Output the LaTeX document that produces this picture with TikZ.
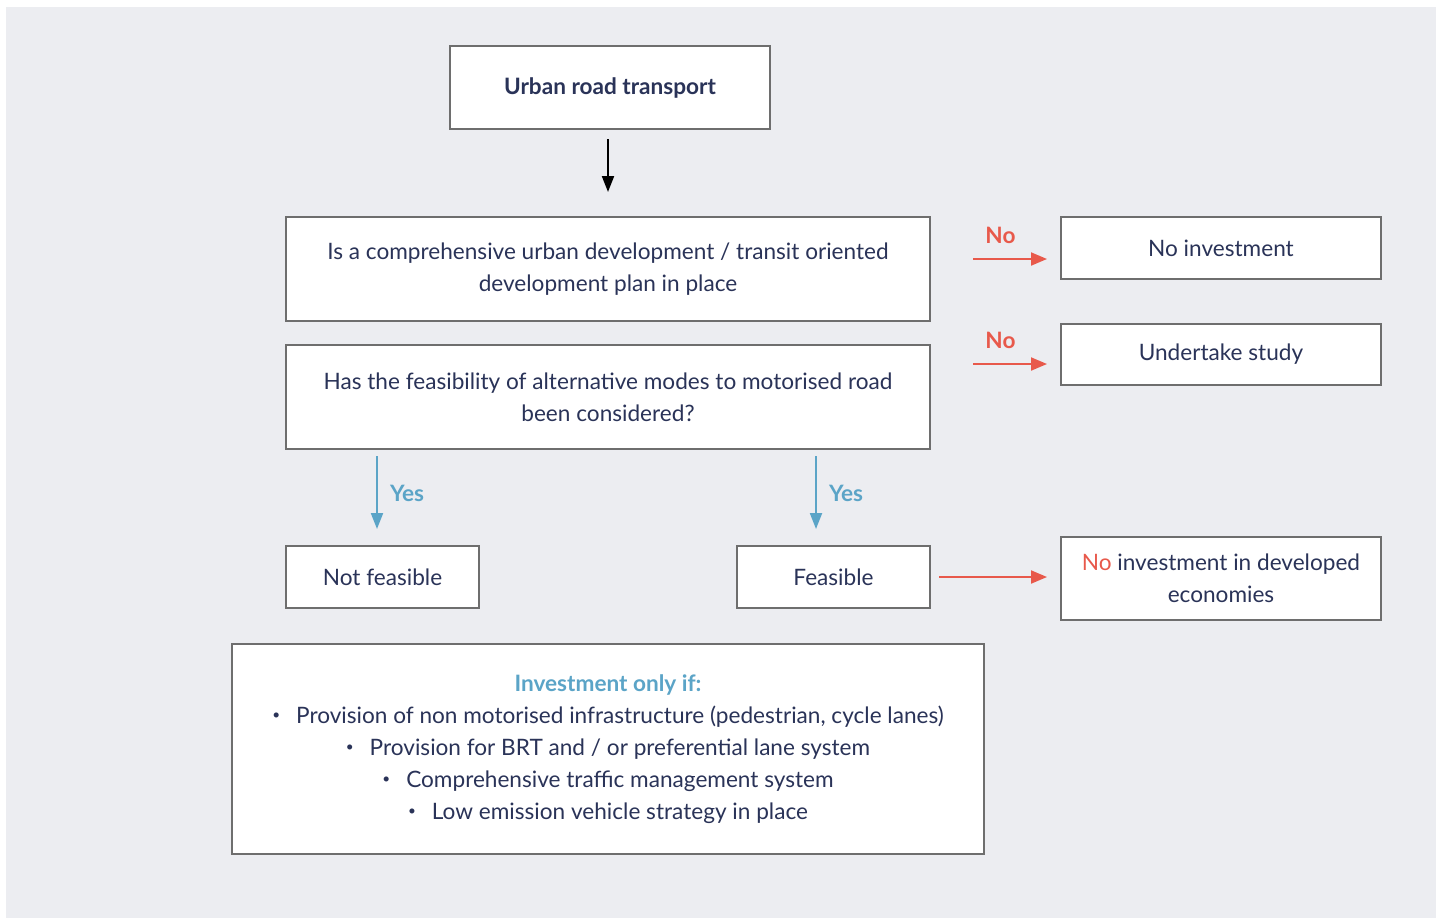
\documentclass[tikz,border=0pt]{standalone}
\usepackage{fontspec}
\setmainfont{Lato}
\usepackage{tikz}
\usetikzlibrary{arrows.meta}
\definecolor{ink}{HTML}{2A3358}
\definecolor{boxgrey}{HTML}{6E6E6E}
\definecolor{nored}{HTML}{E8594B}
\definecolor{yesblue}{HTML}{5BA4C7}
\definecolor{paper}{HTML}{ECEDF1}
\newcommand{\smallbul}{\raisebox{0.15em}{\scalebox{0.6}{\textbullet}}\hspace{8pt}}
\tikzset{
  box/.style={draw=boxgrey, line width=1pt, fill=white, text=ink, align=center,
    inner sep=0pt, font=\fontsize{11.3}{16}\selectfont},
  lbl/.style={inner sep=0pt, font=\bfseries\fontsize{11.3}{12}\selectfont},
  noarrow/.style={line width=1pt, nored, -{Triangle[length=8pt,width=6.5pt]}},
  yesarrow/.style={line width=1pt, yesblue, -{Triangle[length=8pt,width=6pt]}}
}
\begin{document}
\begin{tikzpicture}[x=0.5pt, y=-0.5pt]
\useasboundingbox (0,0) rectangle (1442,918);
\fill[paper] (6,7) rectangle (1436,918);
% main column
\path (610,87.5) node (urban) [box, minimum width=160pt, minimum height=41.5pt] {\bfseries Urban road transport};
\path (608,269) node (q1) [box, minimum width=322pt, minimum height=52pt] {Is a comprehensive urban development / transit oriented\\development plan in place};
\path (608,397) node (q2) [box, minimum width=322pt, minimum height=52pt] {Has the feasibility of alternative modes to motorised road\\been considered?};
\path (382.5,577) node (nf) [box, minimum width=96.5pt, minimum height=31pt] {Not feasible};
\path (833.5,577) node (feas) [box, minimum width=96.5pt, minimum height=31pt] {Feasible};
\path (608,749) node (invest) [box, minimum width=376pt, minimum height=105pt] {{\color{yesblue}\bfseries Investment only if:}\\
\smallbul Provision of non motorised infrastructure (pedestrian, cycle lanes)\\
\smallbul Provision for BRT and / or preferential lane system\\
\smallbul Comprehensive traffic management system\\
\smallbul Low emission vehicle strategy in place};
% outcomes on the right
\path (1221,248) node (noinv) [box, minimum width=160pt, minimum height=31pt] {No investment};
\path (1221,354.5) node (study) [box, minimum width=160pt, minimum height=30.5pt] {Undertake study};
\path (1221,578.5) node (econ) [box, minimum width=160pt, minimum height=41.5pt] {{\color{nored}No} investment in developed\\economies};
% connectors
\draw[line width=1pt, -{Triangle[length=8pt,width=6pt]}, shorten <=4.5pt, shorten >=12pt] (q1.north |- urban.south) -- (q1.north);
\draw[noarrow, shorten <=21pt, shorten >=6.5pt] ([yshift=-5.5pt]noinv.west -| q1.east) -- ([yshift=-5.5pt]noinv.west) node[midway, above=7pt, xshift=2.5pt, lbl, nored] {No};
\draw[noarrow, shorten <=21pt, shorten >=6.5pt] ([yshift=-4.75pt]study.west -| q1.east) -- ([yshift=-4.75pt]study.west) node[midway, above=7pt, xshift=2.5pt, lbl, nored] {No};
\draw[yesarrow, shorten <=3pt, shorten >=8pt] ([xshift=-2.75pt]nf.north |- q2.south) -- ([xshift=-2.75pt]nf.north) node[midway, right=6pt, yshift=2pt, lbl, yesblue] {Yes};
\draw[yesarrow, shorten <=3pt, shorten >=8pt] ([xshift=-8.75pt]feas.north |- q2.south) -- ([xshift=-8.75pt]feas.north) node[midway, right=6pt, yshift=2pt, lbl, yesblue] {Yes};
\draw[noarrow, shorten <=4pt, shorten >=6.5pt] (feas.east) -- (feas.east -| econ.west);
\end{tikzpicture}
\end{document}
